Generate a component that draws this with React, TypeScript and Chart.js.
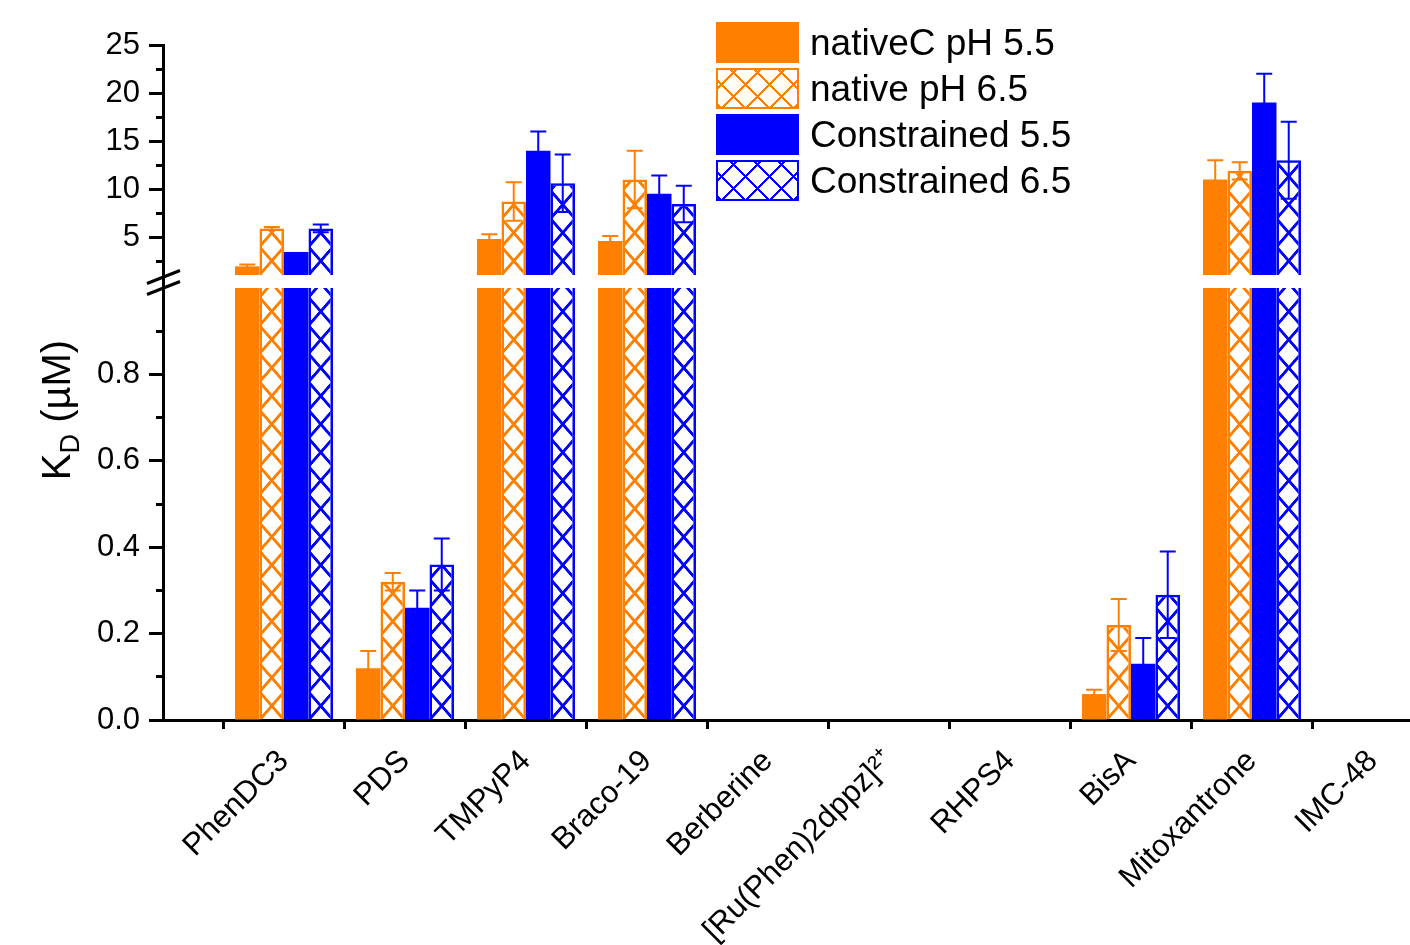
import React, { useEffect, useRef } from 'react';
import { Chart, registerables } from 'chart.js';

Chart.register(...registerables);

// ---------- data ----------
const CATEGORIES = ['PhenDC3', 'PDS', 'TMPyP4', 'Braco-19', 'Berberine', '[Ru(Phen)2dppz]²⁺', 'RHPS4', 'BisA', 'Mitoxantrone', 'IMC-48'];
const SERIES = ['nativeC pH 5.5', 'native pH 6.5', 'Constrained 5.5', 'Constrained 6.5'];
const COLORS = ['#FF8000', '#FF8000', '#0000FF', '#0000FF'];
const HATCHED = [false, true, false, true];

const NATIVE_C_55 = [1.95, 0.12, 4.8, 4.6, null, null, null, 0.06, 11.0, null];
const NATIVE_C_55_ERR = [0.2, 0.04, 0.5, 0.5, null, null, null, 0.01, 2.0, null];
const NATIVE_65 = [5.9, 0.32, 8.7, 11.0, null, null, null, 0.22, 11.9, null];
const NATIVE_65_ERR = [0.15, 0.02, 2.0, 3.0, null, null, null, 0.06, 0.9, null];
const CONSTR_55 = [3.45, 0.26, 14.0, 9.5, null, null, null, 0.13, 19.0, null];
const CONSTR_55_ERR = [0, 0.04, 2.0, 1.9, null, null, null, 0.06, 3.0, null];
const CONSTR_65 = [5.9, 0.36, 10.6, 8.45, null, null, null, 0.29, 13.0, null];
const CONSTR_65_ERR = [0.4, 0.06, 3.0, 1.9, null, null, null, 0.1, 4.0, null];

const VALUES = [NATIVE_C_55, NATIVE_65, CONSTR_55, CONSTR_65];
const ERRORS = [NATIVE_C_55_ERR, NATIVE_65_ERR, CONSTR_55_ERR, CONSTR_65_ERR];

const HIGH_TICKS = [2.5, 5, 7.5, 10, 12.5, 15, 17.5, 20, 22.5, 25];
const LOW_TICKS = [0, 0.1, 0.2, 0.3, 0.4, 0.5, 0.6, 0.7, 0.8, 0.9];
const HIGH_RANGE = [1.05, 25];
const LOW_RANGE = [0, 1];

const FONT = "'Liberation Sans', Arial, Helvetica, sans-serif";
const CAT_PCT = 0.81;

// ---------- helpers ----------
function makeHatch(chart: any, color: string, left: number, bottom: number, w: number) {
  const T = 64;
  const h = w * 1.15;
  const c = document.createElement('canvas');
  c.width = T;
  c.height = T;
  const g = c.getContext('2d')!;
  g.strokeStyle = color;
  g.lineWidth = (2.7 * T) / w;
  for (let k = -1; k <= 1; k++) {
    g.beginPath();
    g.moveTo(k * T, 0);
    g.lineTo(k * T + T, T);
    g.moveTo(k * T + T, 0);
    g.lineTo(k * T, T);
    g.stroke();
  }
  const p = chart.ctx.createPattern(c, 'repeat');
  if (p && p.setTransform) {
    p.setTransform(new DOMMatrix().translate(left, bottom).scale(w / T, h / T));
  }
  return p;
}

function hatchFill(series: number, yId: string) {
  return (c: any) => {
    const chart = c.chart;
    const xs = chart.scales.x;
    const ys = chart.scales[yId];
    if (!xs || !ys || c.type !== 'data') return 'rgba(0,0,0,0)';
    const unit = xs.getPixelForValue(1) - xs.getPixelForValue(0);
    const size = unit * CAT_PCT;
    const chunk = size / 4;
    const left = xs.getPixelForValue(c.dataIndex) - size / 2 + chunk * series;
    return makeHatch(chart, COLORS[series], left, ys.bottom, chunk);
  };
}

const minorDash = (c: any) => (c.tick && c.tick.mn ? [0, 7, 7, 0] : []);

// ---------- plugins ----------
const panelClip = {
  id: 'panelClip',
  beforeDatasetDraw(chart: any, args: any) {
    const ys = chart.scales[args.meta.yAxisID];
    const { left, right } = chart.chartArea;
    const ctx = chart.ctx;
    ctx.save();
    ctx.beginPath();
    ctx.rect(left, ys.top, right - left, ys.bottom - ys.top);
    ctx.clip();
  },
  afterDatasetDraw(chart: any) {
    chart.ctx.restore();
  },
};

const errorBars = {
  id: 'errorBars',
  afterDatasetsDraw(chart: any) {
    const ctx = chart.ctx;
    const { left, right } = chart.chartArea;
    chart.data.datasets.forEach((ds: any, d: number) => {
      const meta = chart.getDatasetMeta(d);
      const ys = chart.scales[meta.yAxisID];
      ctx.save();
      ctx.beginPath();
      ctx.rect(left, ys.top, right - left, ys.bottom - ys.top);
      ctx.clip();
      ctx.strokeStyle = ds.borderColor;
      ctx.lineWidth = 2;
      meta.data.forEach((el: any, i: number) => {
        const v = ds.data[i].y;
        const e = ds.errs[i];
        if (v == null || !e) return;
        const x = el.x;
        const yt = ys.getPixelForValue(v + e);
        const yb = ys.getPixelForValue(v - e);
        ctx.beginPath();
        ctx.moveTo(x, yb);
        ctx.lineTo(x, yt);
        ctx.moveTo(x - 8, yt);
        ctx.lineTo(x + 8, yt);
        ctx.moveTo(x - 8, yb);
        ctx.lineTo(x + 8, yb);
        ctx.stroke();
      });
      ctx.restore();
    });
  },
};

const axisBreak = {
  id: 'axisBreak',
  afterDraw(chart: any) {
    const gap = chart.scales.yGap;
    const ctx = chart.ctx;
    const x = chart.chartArea.left;
    const yc = (gap.top + gap.bottom) / 2 + 1;
    ctx.save();
    ctx.strokeStyle = '#000';
    ctx.lineWidth = 3;
    [-5.5, 5.5].forEach((off) => {
      ctx.beginPath();
      ctx.moveTo(x - 16, yc + off + 6.5);
      ctx.lineTo(x + 17, yc + off - 6.5);
      ctx.stroke();
    });
    ctx.restore();
  },
};

const yTitle = {
  id: 'yTitle',
  afterDraw(chart: any) {
    const ctx = chart.ctx;
    const big = 40;
    const small = 27;
    ctx.save();
    ctx.fillStyle = '#000';
    ctx.textBaseline = 'alphabetic';
    ctx.font = `${big}px ${FONT}`;
    const wK = ctx.measureText('K').width;
    const wRest = ctx.measureText(' (µM)').width;
    ctx.font = `${small}px ${FONT}`;
    const wD = ctx.measureText('D').width;
    const total = wK + wD + wRest;
    ctx.translate(70, 410);
    ctx.rotate(-Math.PI / 2);
    let x = -total / 2;
    ctx.font = `${big}px ${FONT}`;
    ctx.fillText('K', x, 0);
    x += wK;
    ctx.font = `${small}px ${FONT}`;
    ctx.fillText('D', x, 9);
    x += wD;
    ctx.font = `${big}px ${FONT}`;
    ctx.fillText(' (µM)', x, 0);
    ctx.restore();
  },
};

// ---------- chart config ----------
function buildDatasets() {
  const out: any[] = [];
  ['yLow', 'yHigh'].forEach((yId) => {
    SERIES.forEach((label, s) => {
      out.push({
        label,
        data: VALUES[s].map((v, i) => ({ x: i, y: v })),
        errs: ERRORS[s],
        yAxisID: yId,
        stack: 's' + s,
        backgroundColor: HATCHED[s] ? hatchFill(s, yId) : COLORS[s],
        borderColor: COLORS[s],
        borderWidth: HATCHED[s] ? 2.5 : 0,
        borderSkipped: 'start',
        categoryPercentage: CAT_PCT,
        barPercentage: 1,
      });
    });
  });
  return out;
}

const yCommon = (labelFn: (v: number) => string) => ({
  type: 'linear' as const,
  position: 'left' as const,
  stack: 'y',
  stacked: false,
  afterFit: (s: any) => {
    s.width = 163;
  },
  border: { display: true, color: '#000', width: 3 },
  grid: {
    drawOnChartArea: false,
    drawTicks: true,
    tickLength: 14,
    tickWidth: 3,
    tickColor: '#000',
    tickBorderDash: minorDash,
  },
  ticks: {
    autoSkip: false,
    padding: 9,
    color: '#000',
    font: { family: FONT, size: 31 },
    callback: (v: any, i: number, ticks: any[]) => (ticks[i] && ticks[i].mn ? '' : labelFn(Number(v))),
  },
});

function buildConfig(): any {
  return {
    type: 'bar',
    data: { datasets: buildDatasets() },
    plugins: [panelClip, errorBars, axisBreak, yTitle],
    options: {
      responsive: false,
      animation: false,
      devicePixelRatio: 1,
      events: [],
      layout: { padding: { top: 45, left: 0, right: 0, bottom: 0 } },
      plugins: { legend: { display: false }, tooltip: { enabled: false } },
      scales: {
        x: {
          type: 'linear',
          min: -1,
          max: 9.306,
          offset: false,
          afterBuildTicks: (s: any) => {
            s.ticks = CATEGORIES.map((_, i) => ({ value: i }));
          },
          afterFit: (s: any) => {
            s.height = 225;
            s.paddingRight = 0;
            s.paddingLeft = 0;
          },
          border: { display: true, color: '#000', width: 3 },
          grid: {
            offset: true,
            drawOnChartArea: false,
            drawTicks: true,
            tickLength: 9,
            tickWidth: 3,
            tickColor: '#000',
          },
          ticks: {
            autoSkip: false,
            maxRotation: 45,
            minRotation: 45,
            padding: 14,
            color: '#000',
            font: { family: FONT, size: 31 },
            callback: (v: any) => CATEGORIES[Math.round(Number(v))] ?? '',
          },
        },
        yHigh: {
          ...yCommon((v) => String(v)),
          min: HIGH_RANGE[0],
          max: HIGH_RANGE[1],
          stackWeight: 230,
          weight: 3,
          afterBuildTicks: (s: any) => {
            s.ticks = HIGH_TICKS.map((v) => ({ value: v, mn: v % 5 !== 0 }));
          },
        },
        yGap: {
          type: 'linear',
          position: 'left',
          stack: 'y',
          stacked: false,
          min: 0,
          max: 1,
          stackWeight: 13,
          weight: 2,
          afterBuildTicks: (s: any) => {
            s.ticks = [];
          },
          afterFit: (s: any) => {
            s.width = 163;
          },
          border: { display: true, color: '#000', width: 3 },
          grid: { display: false, drawTicks: false },
          ticks: { display: false },
        },
        yLow: {
          ...yCommon((v) => v.toFixed(1)),
          min: LOW_RANGE[0],
          max: LOW_RANGE[1],
          stackWeight: 432,
          weight: 1,
          afterBuildTicks: (s: any) => {
            s.ticks = LOW_TICKS.map((v, i) => ({ value: v, mn: i % 2 === 1 }));
          },
        },
      },
    },
  };
}

// ---------- legend (HTML) ----------
function Swatch({ s }: { s: number }) {
  const c = COLORS[s];
  const style: React.CSSProperties = HATCHED[s]
    ? {
        border: `2.5px solid ${c}`,
        backgroundColor: '#fff',
        backgroundImage: `repeating-linear-gradient(45deg, ${c} 0px, ${c} 2.4px, transparent 2.4px, transparent 17px), repeating-linear-gradient(-45deg, ${c} 0px, ${c} 2.4px, transparent 2.4px, transparent 17px)`,
      }
    : { backgroundColor: c };
  return <div style={{ width: 83, height: 41, boxSizing: 'border-box', flex: '0 0 auto', ...style }} />;
}

function Legend() {
  return (
    <div style={{ position: 'absolute', left: 716, top: 22, fontFamily: FONT, fontSize: 37, color: '#000' }}>
      {SERIES.map((name, s) => (
        <div key={name} style={{ display: 'flex', alignItems: 'center', height: 41, marginBottom: 5 }}>
          <Swatch s={s} />
          <span style={{ marginLeft: 11, whiteSpace: 'nowrap', lineHeight: '41px' }}>{name}</span>
        </div>
      ))}
    </div>
  );
}

export default function App() {
  const ref = useRef<HTMLCanvasElement>(null);
  useEffect(() => {
    if (!ref.current) return;
    const chart = new Chart(ref.current, buildConfig());
    return () => chart.destroy();
  }, []);
  return (
    <div style={{ position: 'fixed', left: 0, top: 0, width: 1410, height: 945, background: '#fff', overflow: 'hidden' }}>
      <canvas ref={ref} width={1410} height={945} style={{ display: 'block', width: 1410, height: 945 }} />
      <Legend />
    </div>
  );
}
